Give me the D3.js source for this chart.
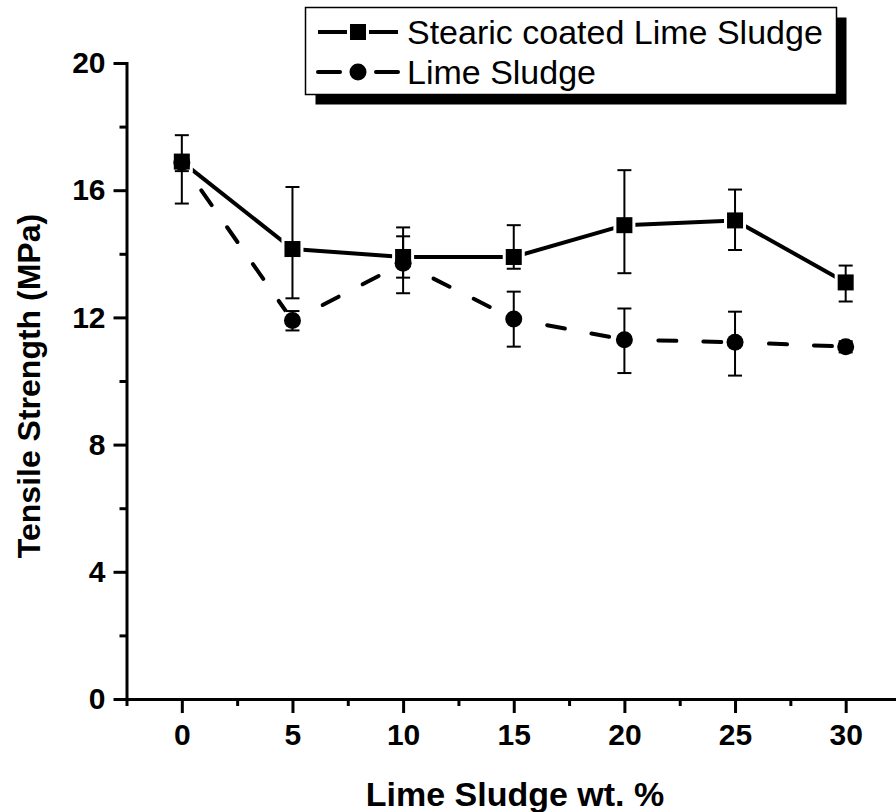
<!DOCTYPE html>
<html>
<head>
<meta charset="utf-8">
<script src="https://cdn.jsdelivr.net/npm/d3@7/dist/d3.min.js"></script>
<style>
  html, body { margin: 0; padding: 0; background: #fff; }
  svg { display: block; font-family: "Liberation Sans", Arial, sans-serif; }
</style>
</head>
<body>
<svg id="chart" width="896" height="812"></svg>
<script>
// Filler content (wt. %) on the x axis
const loading = [0, 5, 10, 15, 20, 25, 30];

// Tensile strength (MPa) with error bar limits
const stearicMean = [16.9, 14.15, 13.9, 13.9, 14.9, 15.05, 13.1];
const stearicHigh = [17.73, 16.1, 14.55, 14.9, 16.63, 16.02, 13.63];
const stearicLow  = [15.58, 12.6, 13.25, 13.53, 13.39, 14.12, 12.5];

const sludgeMean = [16.87, 11.9, 13.7, 11.95, 11.3, 11.22, 11.08];
const sludgeHigh = [17.1, 12.2, 14.83, 12.81, 12.28, 12.18, 11.25];
const sludgeLow  = [16.6, 11.59, 12.76, 11.08, 10.25, 10.17, 10.9];

const xMajorTicks = [0, 5, 10, 15, 20, 25, 30];
const xMinorTicks = [-2.5, 2.5, 7.5, 12.5, 17.5, 22.5, 27.5, 32.5];
const yMajorTicks = [0, 4, 8, 12, 16, 20];
const yMinorTicks = [2, 6, 10, 14, 18];

const seriesNames = ["Stearic coated Lime Sludge", "Lime Sludge"];

const svg = d3.select("#chart");
const x = d3.scaleLinear().domain([-2.5, 32.5]).range([126.5, 901]);
const y = d3.scaleLinear().domain([0, 20]).range([699, 63]);

// ---- axes ----
const tickFont = g => g.selectAll("text")
  .attr("font-size", 30).attr("font-weight", "bold").attr("fill", "#000");

const xAxis = svg.append("g").attr("transform", `translate(0,${y(0)})`);
xAxis.call(d3.axisBottom(x).tickValues(xMinorTicks).tickSize(7).tickSizeOuter(0).tickFormat(""));
xAxis.append("g").call(d3.axisBottom(x).tickValues(xMajorTicks).tickSize(14).tickPadding(11).tickSizeOuter(0))
  .call(g => g.select(".domain").remove())
  .call(tickFont);

const yAxis = svg.append("g").attr("transform", `translate(${x(-2.5)},0)`);
yAxis.call(d3.axisLeft(y).tickValues(yMinorTicks).tickSize(7).tickSizeOuter(0).tickFormat(""));
yAxis.append("g").call(d3.axisLeft(y).tickValues(yMajorTicks).tickSize(13).tickPadding(8).tickSizeOuter(0))
  .call(g => g.select(".domain").remove())
  .call(tickFont);

svg.selectAll(".domain, .tick line").attr("stroke", "#000").attr("stroke-width", 3);
svg.selectAll(".domain").attr("stroke-linecap", "square");

svg.append("text")
  .attr("x", 515).attr("y", 806)
  .attr("text-anchor", "middle")
  .attr("font-size", 34).attr("font-weight", "bold")
  .text("Lime Sludge wt. %");

svg.append("text")
  .attr("transform", "translate(40,386) rotate(-90)")
  .attr("text-anchor", "middle")
  .attr("font-size", 32).attr("font-weight", "bold")
  .text("Tensile Strength (MPa)");

// ---- series ----
const series = [
  { name: seriesNames[0], mean: stearicMean, hi: stearicHigh, lo: stearicLow, shape: "square", dash: null },
  { name: seriesNames[1], mean: sludgeMean, hi: sludgeHigh, lo: sludgeLow, shape: "circle", dash: "18,27" }
].map(s => ({ ...s, pts: loading.map((v, i) => ({ x: v, y: s.mean[i], hi: s.hi[i], lo: s.lo[i] })) }));

const plot = svg.append("g");

// connecting lines, one path per segment so the dash pattern restarts at each point
series.forEach(s => {
  const segs = d3.pairs(s.pts);
  plot.append("g").selectAll("path").data(segs).join("path")
    .attr("d", ([a, b]) => d3.line()([[x(a.x), y(a.y)], [x(b.x), y(b.y)]]))
    .attr("fill", "none").attr("stroke", "#000").attr("stroke-width", 4)
    .attr("stroke-linecap", s.dash ? "round" : "butt")
    .attr("stroke-dasharray", s.dash)
    .attr("stroke-dashoffset", s.dash ? 11 : null);
});

const squareSide = 16, circleR = 8.5;
function drawMarker(g, shape, cx, cy, pad, fill) {
  if (shape === "square") {
    g.append("rect")
      .attr("x", cx - squareSide / 2 - pad).attr("y", cy - squareSide / 2 - pad)
      .attr("width", squareSide + 2 * pad).attr("height", squareSide + 2 * pad)
      .attr("fill", fill);
  } else {
    g.append("circle").attr("cx", cx).attr("cy", cy).attr("r", circleR + pad).attr("fill", fill);
  }
}

// white clearance around every marker
const halo = plot.append("g");
series.forEach(s => s.pts.forEach(p => drawMarker(halo, s.shape, x(p.x), y(p.y), 3, "#fff")));

// error bars
const capHalf = 7;
series.forEach(s => {
  const eb = plot.append("g").attr("stroke", "#000").attr("stroke-width", 2);
  s.pts.forEach(p => {
    const cx = x(p.x);
    eb.append("line").attr("x1", cx).attr("x2", cx).attr("y1", y(p.hi)).attr("y2", y(p.lo));
    eb.append("line").attr("x1", cx - capHalf).attr("x2", cx + capHalf).attr("y1", y(p.hi)).attr("y2", y(p.hi));
    eb.append("line").attr("x1", cx - capHalf).attr("x2", cx + capHalf).attr("y1", y(p.lo)).attr("y2", y(p.lo));
  });
});

// markers
const marks = plot.append("g");
series.slice().reverse().forEach(s => s.pts.forEach(p => drawMarker(marks, s.shape, x(p.x), y(p.y), 0, "#000")));

// ---- legend ----
const legend = svg.append("g");
const lx = 305.5, ly = 7.5, lw = 531, lh = 87;
legend.append("rect").attr("x", lx + 10).attr("y", ly + 10).attr("width", lw).attr("height", lh).attr("fill", "#000");
legend.append("rect").attr("x", lx).attr("y", ly).attr("width", lw).attr("height", lh)
  .attr("fill", "#fff").attr("stroke", "#000").attr("stroke-width", 1.5);

const rowY = [32, 72];
series.forEach((s, i) => {
  const cy = rowY[i];
  const g = legend.append("g");
  const segs = s.dash ? [[318, 340], [376, 398]] : [[318, 347], [369, 398]];
  segs.forEach(([a, b]) => g.append("line")
    .attr("x1", a).attr("x2", b).attr("y1", cy).attr("y2", cy)
    .attr("stroke", "#000").attr("stroke-width", 4)
    .attr("stroke-linecap", s.dash ? "round" : "butt"));
  drawMarker(g, s.shape, 358, cy, 0, "#000");
  g.append("text").attr("x", 407).attr("y", cy + 12)
    .attr("font-size", 34).attr("fill", "#000")
    .text(s.name);
});
</script>
</body>
</html>
